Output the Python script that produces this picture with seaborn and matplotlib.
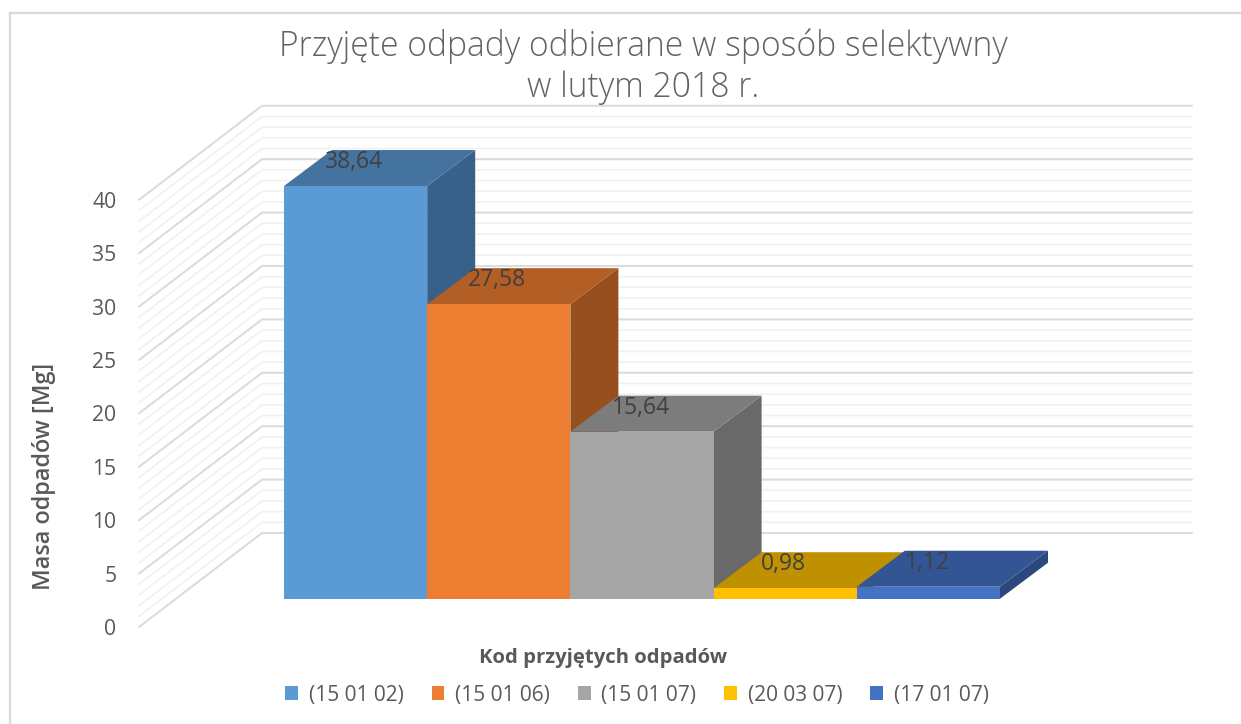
import matplotlib
matplotlib.use('Agg')
import matplotlib.pyplot as plt
from matplotlib.patches import Polygon, Patch, Rectangle
import seaborn as sns

codes = ['(15 01 02)', '(15 01 06)', '(15 01 07)', '(20 03 07)', '(17 01 07)']
values = [38.64, 27.58, 15.64, 0.98, 1.12]
value_labels = ['38,64', '27,58', '15,64', '0,98', '1,12']
front_colors = ['#5B9BD5', '#ED7D31', '#A5A5A5', '#FFC000', '#4472C4']
top_colors = ['#44739F', '#B25E25', '#7C7C7C', '#BF9000', '#335593']
side_colors = ['#376189', '#974F1F', '#696969', '#A37A00', '#2B487D']
grid_values = list(range(0, 41))
tick_values = [0, 5, 10, 15, 20, 25, 30, 35, 40]

W, H = 1241, 724
GREY = '#595959'

# pixel layout of the fake 3d box
bar_left = 284
bar_w = 143.2
base_y = 598.7
px_per_unit = 10.68
depth_x = 48 / bar_w
depth_y = 36 / px_per_unit
wall_back_x = (262 - bar_left) / bar_w - 0.5
wall_right_x = (1192 - bar_left) / bar_w - 0.5
wall_front_x = (139 - bar_left) / bar_w - 0.5
wall_back_y = (base_y - 533) / px_per_unit
wall_front_y = (base_y - 627) / px_per_unit

sns.set_theme(style='white')
plt.rcParams['font.family'] = ['Open Sans', 'DejaVu Sans']

fig = plt.figure(figsize=(W / 100, H / 100), dpi=100)
fig.patch.set_facecolor('white')
ax = fig.add_axes([0, 0, 1, 1])
ax.patch.set_alpha(0)

fig.add_artist(Rectangle((10 / W, -0.05), 1.1, 1.05 - 13 / H, transform=fig.transFigure,
                         fill=False, edgecolor='#DADADA', linewidth=1.6))

# walls
for v in grid_values:
    major = v % 5 == 0
    ax.plot([wall_front_x, wall_back_x, wall_right_x],
            [v + wall_front_y, v + wall_back_y, v + wall_back_y],
            color='#DCDCDC' if major else '#F1F1F1', lw=1.5 if major else 1.2,
            solid_joinstyle='miter', zorder=1)

# front faces
sns.barplot(x=codes, y=values, hue=codes, palette=front_colors, order=codes, hue_order=codes,
            width=1, saturation=1, legend=False, linewidth=0, ax=ax, zorder=5)

ax.set_xlim((0 - bar_left) / bar_w - 0.5, (W - bar_left) / bar_w - 0.5)
ax.set_ylim((base_y - H) / px_per_unit, base_y / px_per_unit)

# sides and tops, left to right so each top lies over the previous side
for i, val in enumerate(values):
    l, r = i - 0.5, i + 0.5
    ax.add_patch(Polygon([(r, 0), (r + depth_x, depth_y), (r + depth_x, val + depth_y), (r, val)],
                         facecolor=side_colors[i], edgecolor='none', zorder=2 + i * 0.1))
    ax.add_patch(Polygon([(l, val), (r, val), (r + depth_x, val + depth_y), (l + depth_x, val + depth_y)],
                         facecolor=top_colors[i], edgecolor='none', zorder=2.05 + i * 0.1))
    ax.annotate(value_labels[i], (i, val + depth_y / 2), xytext=(-1, 4.2), textcoords='offset points',
                ha='center', va='center', fontsize=16.5, color='#404040', zorder=6)

for s in ax.spines.values():
    s.set_visible(False)
ax.set_xticks([])
ax.set_yticks([])
ax.set_xlabel('')
ax.set_ylabel('')

# value axis sits on the front edge of the left wall
axis_y = ax.secondary_yaxis(122 / W, functions=(lambda v: v - wall_front_y, lambda v: v + wall_front_y))
axis_y.set_yticks(tick_values)
axis_y.tick_params(length=0, pad=4, labelsize=15.2, labelcolor=GREY)
for s in axis_y.spines.values():
    s.set_visible(False)

fig.text(643 / W, 1 - 46 / H, 'Przyjęte odpady odbierane w sposób selektywny', ha='center', va='center',
         fontsize=24.2, color='#636363', fontweight='light')
fig.text(643 / W, 1 - 88 / H, 'w lutym 2018 r.', ha='center', va='center',
         fontsize=24.2, color='#636363', fontweight='light')
fig.text(44 / W, 1 - 476 / H, 'Masa odpadów [Mg]', rotation=90, ha='center', va='center',
         fontsize=16.8, color=GREY, fontweight='semibold')
fig.text(603 / W, 1 - 658 / H, 'Kod przyjętych odpadów', ha='center', va='center',
         fontsize=14.6, color=GREY, fontweight='bold')

handles = [Patch(facecolor=c, edgecolor='none', label=k) for c, k in zip(front_colors, codes)]
fig.legend(handles=handles, ncol=5, loc='center', bbox_to_anchor=(637 / W, 1 - 695 / H), frameon=False,
           fontsize=15, labelcolor=GREY, handlelength=0.62, handleheight=0.62, handletextpad=0.5,
           columnspacing=1.35, borderpad=0)

fig.savefig('out.png', dpi=100)
